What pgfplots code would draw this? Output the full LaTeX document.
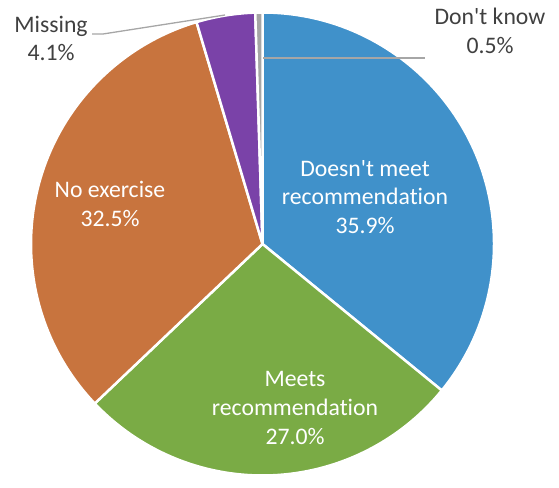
\documentclass[border=0pt]{standalone}
\usepackage{pgfplots}
\pgfplotsset{compat=1.18}
\usepackage{pgfplotstable}
\usepackage{fontspec}
\setmainfont{Carlito}[Ligatures={NoCommon,NoRequired,TeXOff}]
\definecolor{cA}{RGB}{64,145,202}
\definecolor{cB}{RGB}{122,171,69}
\definecolor{cC}{RGB}{200,116,62}
\definecolor{cD}{RGB}{122,66,168}
\definecolor{cE}{RGB}{165,165,165}
\definecolor{txt}{RGB}{64,64,64}
\definecolor{lead}{RGB}{166,166,166}
\pgfplotstableread{
label value
DoesntMeet 35.9
Meets 27.0
NoExercise 32.5
Missing 4.1
DontKnow 0.5
}\pietable
\begin{document}
\begin{tikzpicture}
\pgfplotstablegetelem{0}{value}\of\pietable \let\vA\pgfplotsretval
\pgfplotstablegetelem{1}{value}\of\pietable \let\vB\pgfplotsretval
\pgfplotstablegetelem{2}{value}\of\pietable \let\vC\pgfplotsretval
\pgfplotstablegetelem{3}{value}\of\pietable \let\vD\pgfplotsretval
\pgfplotstablegetelem{4}{value}\of\pietable \let\vE\pgfplotsretval
\pgfmathsetmacro\aA{90-3.6*\vA}
\pgfmathsetmacro\aB{\aA-3.6*\vB}
\pgfmathsetmacro\aC{\aB-3.6*\vC}
\pgfmathsetmacro\aD{\aC-3.6*\vD}
\pgfmathsetmacro\aE{\aD-3.6*\vE}
\begin{axis}[x=1bp,y=1bp,xmin=0,xmax=559,ymin=0,ymax=476,hide axis,clip=false,
  scale only axis]
\path (axis cs:0,0) rectangle (axis cs:559,476);
\tikzset{slice/.style={draw=white,line width=2.5bp,line join=round}}
\filldraw[fill=cA,slice] (axis cs:262.5,232) -- ++(90:231.5bp) arc[start angle=90,end angle=\aA,radius=231.5bp] -- cycle;
\filldraw[fill=cB,slice] (axis cs:262.5,232) -- ++(\aA:231.5bp) arc[start angle=\aA,end angle=\aB,radius=231.5bp] -- cycle;
\filldraw[fill=cC,slice] (axis cs:262.5,232) -- ++(\aB:231.5bp) arc[start angle=\aB,end angle=\aC,radius=231.5bp] -- cycle;
\filldraw[fill=cD,slice] (axis cs:262.5,232) -- ++(\aC:231.5bp) arc[start angle=\aC,end angle=\aD,radius=231.5bp] -- cycle;
\filldraw[fill=cE,slice] (axis cs:262.5,232) -- ++(\aD:231.5bp) arc[start angle=\aD,end angle=\aE,radius=231.5bp] -- cycle;
\draw[lead,line width=1.3bp] (axis cs:92,442) -- (axis cs:103,442) -- (axis cs:225,461);
\draw[lead,line width=1.3bp] (axis cs:263,418) -- (axis cs:425,418);
\tikzset{lbl/.style={align=center,font=\fontsize{23.8}{29}\selectfont,inner sep=0pt}}
\node[lbl,white] at (axis cs:365,279) {Doesn't meet\\recommendation\\\vA\%};
\node[lbl,white] at (axis cs:295,68) {Meets\\recommendation\\\vB\%};
\node[lbl,white] at (axis cs:110,272.5) {No exercise\\\vC\%};
\node[lbl,txt] at (axis cs:51,437.5) {Missing\\\vD\%};
\node[lbl,txt] at (axis cs:490,445) {Don't know\\\vE\%};
\end{axis}
\end{tikzpicture}
\end{document}
